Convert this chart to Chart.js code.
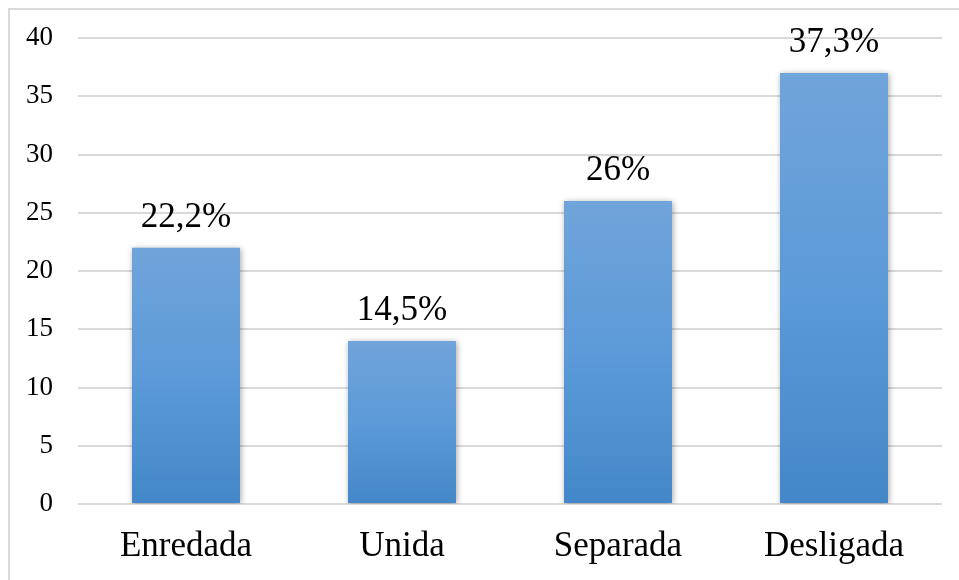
<!DOCTYPE html>
<html>
<head>
<meta charset="utf-8">
<script src="https://cdn.jsdelivr.net/npm/chart.js@4"></script>
<style>
  html, body { margin: 0; padding: 0; background: #fff; overflow: hidden; }
  #wrap { position: relative; width: 959px; height: 580px; }
  #frame { position: absolute; left: 8px; top: 8px; width: 1000px; height: 1000px; border: 2px solid #d9d9d9; }
  canvas { position: absolute; left: 0; top: 0; }
</style>
</head>
<body>
<div id="wrap">
  <div id="frame"></div>
  <canvas id="myChart" width="959" height="580"></canvas>
</div>
<script>
const categories = ['Enredada', 'Unida', 'Separada', 'Desligada'];
const values = [22, 14, 26, 37];
const valueLabels = ['22,2%', '14,5%', '26%', '37,3%'];
const yTicks = [0, 5, 10, 15, 20, 25, 30, 35, 40];

const serif = "'Liberation Serif', 'Times New Roman', serif";

// soft shadow around the bars
const barShadow = {
  id: 'barShadow',
  beforeDatasetsDraw(chart) {
    const c = chart.ctx;
    c.save();
    c.shadowColor = 'rgba(0,0,0,0.35)';
    c.shadowBlur = 6;
    c.shadowOffsetX = 1;
    c.shadowOffsetY = 1;
  },
  afterDatasetsDraw(chart) {
    chart.ctx.restore();
  }
};

// percentage text above each bar
const topLabels = {
  id: 'topLabels',
  afterDatasetsDraw(chart) {
    const c = chart.ctx;
    const meta = chart.getDatasetMeta(0);
    c.save();
    c.font = '35px ' + serif;
    c.fillStyle = '#000';
    c.textAlign = 'center';
    c.textBaseline = 'alphabetic';
    meta.data.forEach((bar, i) => {
      c.fillText(valueLabels[i], bar.x, bar.y - 21);
    });
    c.restore();
  }
};

const ctx = document.getElementById('myChart');

new Chart(ctx, {
  type: 'bar',
  data: {
    labels: categories,
    datasets: [{
      data: values,
      barPercentage: 0.5,
      categoryPercentage: 1,
      backgroundColor: (context) => {
        const chart = context.chart;
        const y = chart.scales && chart.scales.y;
        if (!chart.chartArea || !y || context.raw === undefined) return '#5a96d2';
        const top = y.getPixelForValue(context.raw);
        const bottom = y.getPixelForValue(0);
        const g = chart.ctx.createLinearGradient(0, top, 0, bottom);
        g.addColorStop(0, '#70a4da');
        g.addColorStop(0.5, '#5c9ad8');
        g.addColorStop(1, '#4387c8');
        return g;
      },
      borderWidth: 0
    }]
  },
  options: {
    responsive: false,
    animation: false,
    layout: { padding: { top: 38, right: 17, left: 0, bottom: 0 } },
    scales: {
      x: {
        grid: { display: false },
        border: { display: false },
        ticks: {
          color: '#000',
          font: { family: serif, size: 35 },
          padding: 14,
          maxRotation: 0
        },
        afterFit(scale) { scale.height = 76; }
      },
      y: {
        min: 0,
        max: 40,
        afterBuildTicks(scale) { scale.ticks = yTicks.map(v => ({ value: v })); },
        grid: { color: '#d9d9d9', lineWidth: 2, drawTicks: false },
        border: { display: false },
        ticks: {
          color: '#000',
          font: { family: serif, size: 27 },
          padding: 25
        },
        afterFit(scale) {
          scale.width = 78;
          scale.paddingTop = 0;
          scale.paddingBottom = 0;
        }
      }
    },
    plugins: {
      legend: { display: false },
      tooltip: { enabled: false }
    }
  },
  plugins: [barShadow, topLabels]
});
</script>
</body>
</html>
